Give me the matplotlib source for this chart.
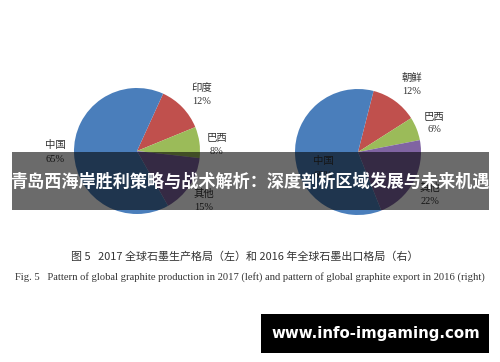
import matplotlib.pyplot as plt
from matplotlib.patches import Rectangle

plt.rcParams['font.family'] = ['Noto Sans CJK SC', 'DejaVu Sans']

# left: 2017 production, right: 2016 export
prod_labels = ['印度', '巴西', '其他', '中国']
prod_share = [12, 8, 15, 65]
export_labels = ['朝鲜', '巴西', '其他', '中国']
export_share = [12, 6, 22, 60]

colors = ['#c0504d', '#9bbb59', '#8064a2', '#4a7ebb']

W, H = 500, 362
fig = plt.figure(figsize=(5, 3.62), dpi=100)
ax = fig.add_axes([0, 0, 1, 1])


def y(v):
    # image row -> data y
    return H - v


ax.pie(prod_share, colors=colors, startangle=65.5, counterclock=False,
       center=(137, y(151)), radius=63, frame=True)
ax.pie(export_share, colors=colors, startangle=75.7, counterclock=False,
       center=(358, y(152)), radius=63, frame=True)
ax.set_xlim(0, W)
ax.set_ylim(0, H)
ax.set_aspect('equal')
ax.axis('off')

# label positions (image pixels) for name / percent
prod_pos = [(202, 88, 102), (217, 138, 152), (204, 194, 207), (55, 145, 160)]
export_pos = [(412, 78, 92), (434, 117, 130), (430, 188, 201), (323, 161, 175)]

for names, shares, pos in [(prod_labels, prod_share, prod_pos),
                           (export_labels, export_share, export_pos)]:
    for n, s, (px, py1, py2) in zip(names, shares, pos):
        ax.text(px, y(py1), n, ha='center', va='center', fontsize=7.5, color='#333333')
        ax.text(px, y(py2), f'{s}%', ha='center', va='center', fontsize=7.5,
                color='#333333', family='Liberation Serif')

# banner overlay
ax.add_patch(Rectangle((12, y(210)), 477, 58, facecolor='black', alpha=0.58,
                       edgecolor='none', zorder=5))
ax.text(250, y(182), '青岛西海岸胜利策略与战术解析：深度剖析区域发展与未来机遇',
        ha='center', va='center', fontsize=12.3, fontweight='bold',
        color='white', zorder=6)

# captions
ax.text(245, y(257), '图 5   2017 全球石墨生产格局（左）和 2016 年全球石墨出口格局（右）',
        ha='center', va='center', fontsize=7.9, color='#333333')
ax.text(250, y(277), 'Fig. 5   Pattern of global graphite production in 2017 (left) and '
        'pattern of global graphite export in 2016 (right)',
        ha='center', va='center', fontsize=7.6, color='#333333',
        family='Liberation Serif')

# watermark box
ax.add_patch(Rectangle((261, y(353)), 228, 39, facecolor='black',
                       edgecolor='none', zorder=5))
ax.text(376, y(333.5), 'www.info-imgaming.com', ha='center', va='center',
        fontsize=10.8, fontweight='bold', color='white', zorder=6,
        family='DejaVu Sans')

fig.savefig('out.png', dpi=100)
